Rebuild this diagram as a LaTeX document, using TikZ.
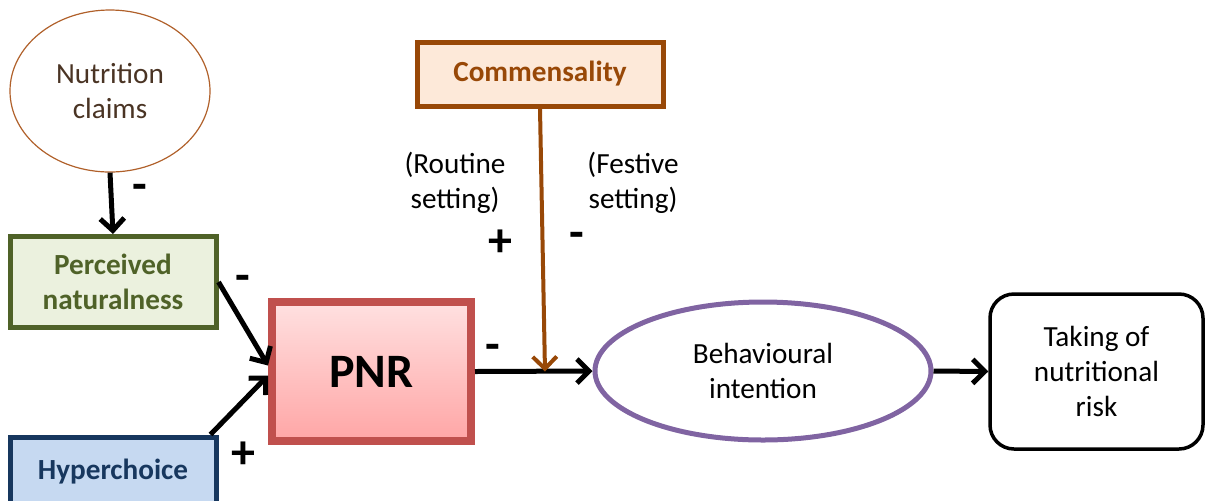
\documentclass[tikz,border=0pt]{standalone}
\usepackage{fontspec}
\setmainfont{Carlito}
\usetikzlibrary{arrows.meta}
\usetikzlibrary{positioning}
\usetikzlibrary{shapes.geometric}

\definecolor{natgreen}{HTML}{4F6228}
\definecolor{natfill}{HTML}{EBF1DE}
\definecolor{hypblue}{HTML}{17375E}
\definecolor{hypfill}{HTML}{C6D9F1}
\definecolor{pnrred}{HTML}{C0504D}
\definecolor{commbrown}{HTML}{984807}
\definecolor{commfill}{HTML}{FDE9D9}
\definecolor{behpurple}{HTML}{8064A2}
\definecolor{claimline}{HTML}{B0602A}
\definecolor{claimtext}{HTML}{4A3424}

\begin{document}
\begin{tikzpicture}[x=0.5pt,y=-0.5pt,>={Straight Barb[length=6pt,width=12pt]},
    every node/.style={font=\fontsize{14.6}{17.5}\selectfont, align=center, inner sep=0pt},
    sign/.style={font=\fontsize{24}{24}\selectfont\bfseries},
    link/.style={->, line width=2.5pt},
    factor/.style={rectangle, draw, line width=2.5pt, minimum width=103pt, font=\fontsize{14.6}{17.5}\selectfont\bfseries}]
    \useasboundingbox (0,0) rectangle (1206,500);

    \node[ellipse, draw=claimline, line width=0.6pt, minimum width=100pt, minimum height=81pt, text=claimtext] (claims) at (110,91) {Nutrition\\claims};
    \node[factor, draw=natgreen, fill=natfill, text=natgreen, minimum height=45.5pt] (natural) at (113,282) {Perceived\\naturalness};
    \node[factor, draw=hypblue, fill=hypfill, text=hypblue, minimum height=35pt] (hyper) at (113,472) {Hyperchoice};
    \node[rectangle, draw=pnrred, line width=4pt, top color=red!12, bottom color=red!35, minimum width=99.5pt, minimum height=69.5pt, font=\fontsize{24}{28}\selectfont\bfseries] (pnr) at (371.5,371.5) {PNR};
    \node[factor, draw=commbrown, fill=commfill, text=commbrown, minimum width=123pt, minimum height=32pt] (comm) at (540,74) {Commensality};
    \node[ellipse, draw=behpurple, line width=2.5pt, minimum width=168pt, minimum height=69pt] (intent) at (763,371) {Behavioural\\intention};
    \node[rectangle, draw, line width=1.75pt, rounded corners=12pt, minimum width=106.5pt, minimum height=77.5pt] (risk) at (1096.5,371.5) {Taking of\\nutritional\\risk};

    \node (routine) at (455,183) {(Routine\\setting)};
    \node (festive) at (633,183) {(Festive\\setting)};

    % signs
    \node[sign] (s1) at (140,192) {-};
    \node[sign] (s2) at (243,283) {-};
    \node[sign] (s3) at (243,455) {+};
    \node[sign] (s4) at (493,352) {-};
    \node[sign] (s5) at (500,243) {+};
    \node[sign] (s6) at (577,240) {-};

    \coordinate (meet) at (545,371.5);

    \draw[link] (claims.south) -- (natural.north);
    \draw[link] (natural.east) -- ([yshift=3pt]pnr.west);
    \draw[link] ([xshift=-4pt]hyper.north east) -- ([yshift=-2pt]pnr.west);
    \draw[link] (pnr.east) -- (intent.west);
    \draw[link] (intent.east) -- (risk.west);
    \draw[->, line width=2pt, draw=commbrown] (comm.south) -- (meet);
\end{tikzpicture}
\end{document}
